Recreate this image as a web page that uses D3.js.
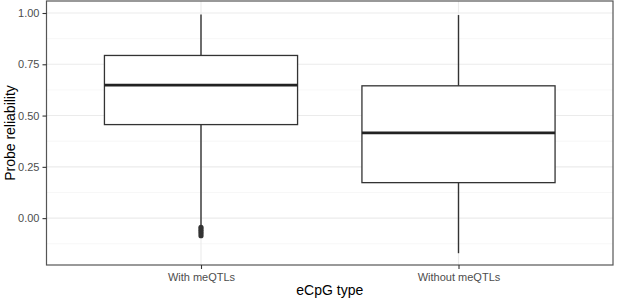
<!DOCTYPE html>
<html>
<head>
<meta charset="utf-8">
<script src="https://cdn.jsdelivr.net/npm/d3@7"></script>
<style>
  body { margin: 0; background: #fff; }
  svg { display: block; font-family: "Liberation Sans", Arial, sans-serif; }
</style>
</head>
<body>
<div id="chart"></div>
<script>
// Box plot: probe reliability by eCpG type

const categories = ['With meQTLs', 'Without meQTLs'];
const lowerWhisker = [-0.04, -0.171];
const q1 = [0.456, 0.173];
const median = [0.648, 0.416];
const q3 = [0.793, 0.645];
const upperWhisker = [0.993, 0.99];
const outliers = [[-0.045, -0.055, -0.065, -0.075, -0.086], []];

const yTicks = [0, 0.25, 0.5, 0.75, 1];
const yMinor = [-0.125, 0.125, 0.375, 0.625, 0.875];

const width = 617, height = 301;
const margin = { top: 1, right: 4, bottom: 36, left: 46.5 };
const innerWidth = width - margin.left - margin.right;
const innerHeight = height - margin.top - margin.bottom;

const svg = d3.select('#chart')
    .append('svg')
    .attr('width', width)
    .attr('height', height);

const g = svg.append('g')
    .attr('transform', `translate(${margin.left},${margin.top})`);

// Scales (ggplot-style expansion)
const x = d3.scaleLinear()
    .domain([0.4, categories.length + 0.6])
    .range([0, innerWidth]);

const y = d3.scaleLinear()
    .domain([-0.2285, 1.0585])
    .range([innerHeight, 0]);

const boxW = x(1.375) - x(1);

// Grid lines
g.selectAll('.minor')
    .data(yMinor)
    .enter().append('line')
    .attr('x1', 0).attr('x2', innerWidth)
    .attr('y1', d => y(d)).attr('y2', d => y(d))
    .attr('stroke', '#f2f2f2').attr('stroke-width', 0.6);

g.selectAll('.major')
    .data(yTicks)
    .enter().append('line')
    .attr('x1', 0).attr('x2', innerWidth)
    .attr('y1', d => y(d)).attr('y2', d => y(d))
    .attr('stroke', '#ebebeb').attr('stroke-width', 1.1);

g.selectAll('.vmajor')
    .data(categories)
    .enter().append('line')
    .attr('x1', (d, i) => x(i + 1)).attr('x2', (d, i) => x(i + 1))
    .attr('y1', 0).attr('y2', innerHeight)
    .attr('stroke', '#ebebeb').attr('stroke-width', 1.1);

// Boxes
const boxes = g.selectAll('.box')
    .data(categories)
    .enter().append('g')
    .attr('class', 'box');

boxes.append('line')
    .attr('x1', (d, i) => x(i + 1)).attr('x2', (d, i) => x(i + 1))
    .attr('y1', (d, i) => y(upperWhisker[i])).attr('y2', (d, i) => y(q3[i]))
    .attr('stroke', '#333').attr('stroke-width', 1.4);

boxes.append('line')
    .attr('x1', (d, i) => x(i + 1)).attr('x2', (d, i) => x(i + 1))
    .attr('y1', (d, i) => y(q1[i])).attr('y2', (d, i) => y(lowerWhisker[i]))
    .attr('stroke', '#333').attr('stroke-width', 1.4);

boxes.append('rect')
    .attr('x', (d, i) => x(i + 1) - boxW)
    .attr('width', 2 * boxW)
    .attr('y', (d, i) => y(q3[i]))
    .attr('height', (d, i) => y(q1[i]) - y(q3[i]))
    .attr('fill', '#fff')
    .attr('stroke', '#333').attr('stroke-width', 1.3);

boxes.append('line')
    .attr('x1', (d, i) => x(i + 1) - boxW).attr('x2', (d, i) => x(i + 1) + boxW)
    .attr('y1', (d, i) => y(median[i])).attr('y2', (d, i) => y(median[i]))
    .attr('stroke', '#222').attr('stroke-width', 2.8);

// Outliers
categories.forEach((c, i) => {
    g.selectAll(`.out${i}`)
        .data(outliers[i])
        .enter().append('circle')
        .attr('cx', x(i + 1))
        .attr('cy', d => y(d))
        .attr('r', 2.6)
        .attr('fill', '#333');
});

// Panel border
g.append('rect')
    .attr('width', innerWidth).attr('height', innerHeight)
    .attr('fill', 'none')
    .attr('stroke', '#555').attr('stroke-width', 1.2);

// Axes
const xAxis = d3.axisBottom(x)
    .tickValues(categories.map((c, i) => i + 1))
    .tickFormat(d => categories[d - 1])
    .tickSize(4).tickPadding(4);

const yAxis = d3.axisLeft(y)
    .tickValues(yTicks)
    .tickFormat(d3.format('.2f'))
    .tickSize(4).tickPadding(3);

const xg = g.append('g')
    .attr('transform', `translate(0,${innerHeight})`)
    .call(xAxis);

const yg = g.append('g').call(yAxis);

[xg, yg].forEach(a => {
    a.select('.domain').remove();
    a.selectAll('.tick line').attr('stroke', '#333').attr('stroke-width', 1.1);
    a.selectAll('.tick text')
        .attr('fill', '#4d4d4d')
        .style('font-size', '11px')
        .style('font-family', '"Liberation Sans", Arial, sans-serif');
});

// Axis titles
svg.append('text')
    .attr('x', margin.left + innerWidth / 2)
    .attr('y', 295)
    .attr('text-anchor', 'middle')
    .style('font-size', '14px')
    .attr('fill', '#000')
    .text('eCpG type');

svg.append('text')
    .attr('transform', `translate(14.5,${margin.top + innerHeight / 2}) rotate(-90)`)
    .attr('text-anchor', 'middle')
    .style('font-size', '14px')
    .attr('fill', '#000')
    .text('Probe reliability');
</script>
</body>
</html>
